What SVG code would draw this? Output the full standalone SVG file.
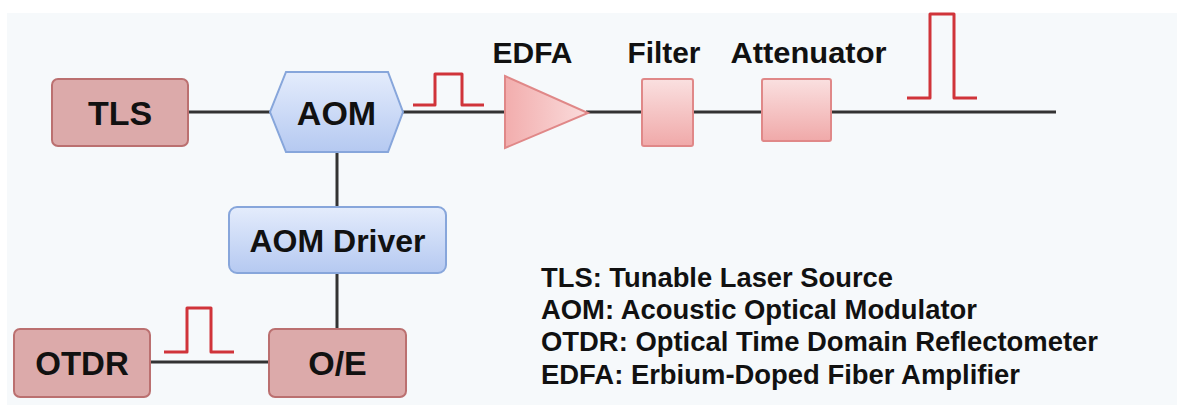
<svg xmlns="http://www.w3.org/2000/svg" width="1177" height="405" viewBox="0 0 1177 405">
<defs>
<linearGradient id="gBlue" x1="0" y1="0" x2="0" y2="1"><stop offset="0" stop-color="#e4ecfc"/><stop offset="1" stop-color="#b5c9f1"/></linearGradient>
<linearGradient id="gPink" x1="0" y1="0" x2="0" y2="1"><stop offset="0" stop-color="#fae0e0"/><stop offset="1" stop-color="#f0a9a9"/></linearGradient>
<linearGradient id="gPinkH" x1="0" y1="0" x2="1" y2="0"><stop offset="0" stop-color="#f2adad"/><stop offset="1" stop-color="#fadcdc"/></linearGradient>
</defs>
<style>
.ln{stroke:#333;stroke-width:3;fill:none}
.pulse{stroke:#d0343a;stroke-width:3;fill:none;stroke-linejoin:round}
.rose{fill:#dcaaaa;stroke:#bb7070;stroke-width:2}
.blue{fill:url(#gBlue);stroke:#87a6db;stroke-width:2}
.pink{fill:url(#gPink);stroke:#e08888;stroke-width:2}
text{font-family:"Liberation Sans",Arial,sans-serif;font-weight:bold;fill:#111}
.big{font-size:34px;text-anchor:middle}
.lab{font-size:29px;text-anchor:middle}
.leg{font-size:27.5px}
</style>
<rect x="7" y="13" width="1170" height="392" fill="#f6f9fb"/>
<g id="connectors">
<line class="ln" x1="188" y1="112" x2="270" y2="112"/>
<line class="ln" x1="403" y1="112" x2="506" y2="112"/>
<line class="ln" x1="586" y1="112" x2="642" y2="112"/>
<line class="ln" x1="693" y1="112" x2="762" y2="112"/>
<line class="ln" x1="831" y1="112" x2="1056" y2="112"/>
<line class="ln" x1="337" y1="152" x2="337" y2="207"/>
<line class="ln" x1="337" y1="273" x2="337" y2="329"/>
<line class="ln" x1="150" y1="362" x2="269" y2="362"/>
</g>
<g id="pulses">
<polyline class="pulse" points="413,105 435,105 435,74 462,74 462,105 484,105"/>
<polyline class="pulse" points="907,98 930,98 930,14 954,14 954,98 977,98"/>
<polyline class="pulse" points="164,352 187,352 187,308 211,308 211,352 234,352"/>
</g>
<g id="TLS">
<rect class="rose" x="52" y="79" width="136" height="67" rx="6"/>
<text class="big" x="120" y="125">TLS</text>
</g>
<g id="AOM">
<polygon class="blue" points="286,72 388,72 403,112 388,152 286,152 270,112"/>
<text class="big" x="336.5" y="125">AOM</text>
</g>
<g id="EDFA">
<polygon fill="url(#gPinkH)" stroke="#e08888" stroke-width="2" points="505,76 588,113 505,148"/>
<text class="lab" x="532.5" y="63" textLength="80" lengthAdjust="spacingAndGlyphs">EDFA</text>
</g>
<g id="Filter">
<rect class="pink" x="642" y="79" width="51" height="67" rx="2"/>
<text class="lab" x="664" y="63" textLength="73" lengthAdjust="spacingAndGlyphs">Filter</text>
</g>
<g id="Attenuator">
<rect class="pink" x="762" y="79" width="69" height="62" rx="2"/>
<text class="lab" x="808.5" y="63" textLength="156" lengthAdjust="spacingAndGlyphs">Attenuator</text>
</g>
<g id="AOMDriver">
<rect class="blue" x="229" y="207" width="217" height="66" rx="8"/>
<text class="big" x="337.5" y="252" style="font-size:32px" textLength="176" lengthAdjust="spacingAndGlyphs">AOM Driver</text>
</g>
<g id="OTDR">
<rect class="rose" x="14" y="329" width="136" height="68" rx="6"/>
<text class="big" x="82" y="375" style="font-size:33px">OTDR</text>
</g>
<g id="OE">
<rect class="rose" x="269" y="329" width="137" height="68" rx="6"/>
<text class="big" x="337.5" y="375">O/E</text>
</g>
<g id="legend">
<text class="leg" x="541" y="287" textLength="352" lengthAdjust="spacingAndGlyphs">TLS: Tunable Laser Source</text>
<text class="leg" x="541" y="319" textLength="436" lengthAdjust="spacingAndGlyphs">AOM: Acoustic Optical Modulator</text>
<text class="leg" x="541" y="351" textLength="557" lengthAdjust="spacingAndGlyphs">OTDR: Optical Time Domain Reflectometer</text>
<text class="leg" x="541" y="384" textLength="479" lengthAdjust="spacingAndGlyphs">EDFA: Erbium-Doped Fiber Amplifier</text>
</g>
</svg>
